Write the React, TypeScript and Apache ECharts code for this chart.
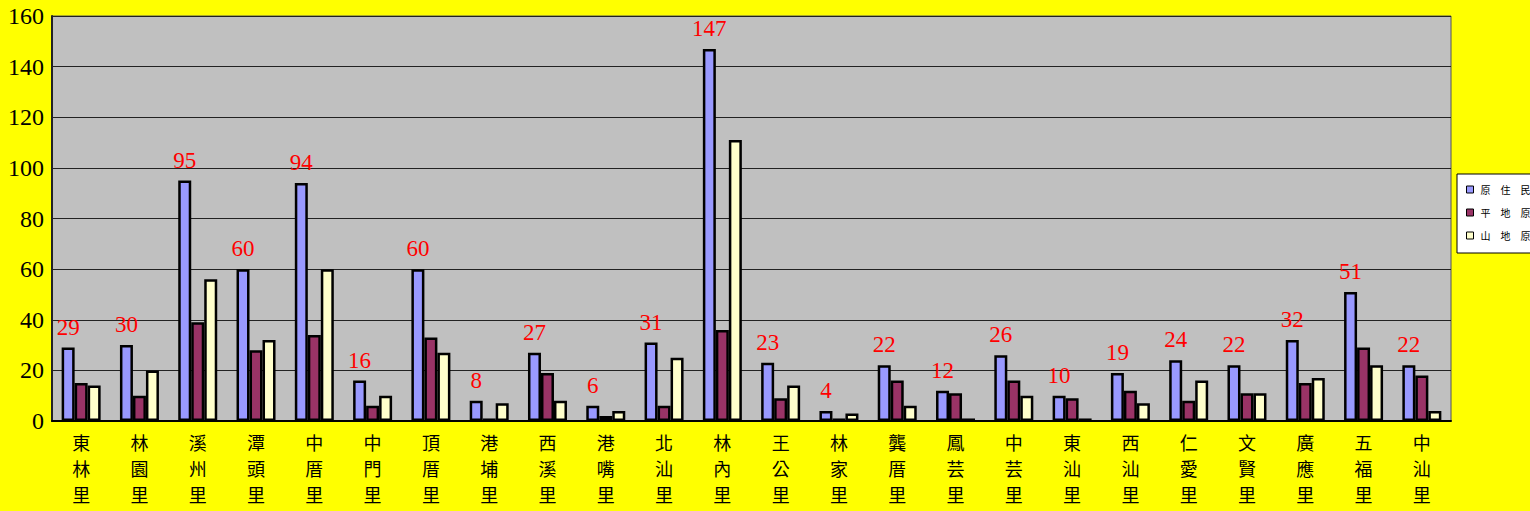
import React, { useEffect, useRef } from "react";
import * as echarts from "echarts";

const categories = [
  "東林里", "林園里", "溪州里", "潭頭里", "中厝里", "中門里", "頂厝里", "港埔里",
  "西溪里", "港嘴里", "北汕里", "林內里", "王公里", "林家里", "龔厝里", "鳳芸里",
  "中芸里", "東汕里", "西汕里", "仁愛里", "文賢里", "廣應里", "五福里", "中汕里",
];
const seriesNames = ["原住民人口", "平地原住民", "山地原住民"];
const totalValues = [29, 30, 95, 60, 94, 16, 60, 8, 27, 6, 31, 147, 23, 4, 22, 12, 26, 10, 19, 24, 22, 32, 51, 22];
const plainValues = [15, 10, 39, 28, 34, 6, 33, 1, 19, 2, 6, 36, 9, 1, 16, 11, 16, 9, 12, 8, 11, 15, 29, 18];
const mountainValues = [14, 20, 56, 32, 60, 10, 27, 7, 8, 4, 25, 111, 14, 3, 6, 1, 10, 1, 7, 16, 11, 17, 22, 4];
const yTicks = { min: 0, max: 160, interval: 20 };

export default function App() {
  const ref = useRef<HTMLDivElement>(null);
  useEffect(() => {
    if (!ref.current) return;
    const chart = echarts.init(ref.current, null, { renderer: "svg" });
    const barBase = {
      type: "bar" as const,
      barWidth: 13,
      barGap: "0%",
      itemStyle: { borderColor: "#000", borderWidth: 2.5 },
    };
    chart.setOption({
      animation: false,
      backgroundColor: "#FFFF00",
      grid: {
        left: 52,
        top: 16,
        width: 1399,
        height: 405,
        show: true,
        backgroundColor: "#C0C0C0",
        borderColor: "#555",
        borderWidth: 1,
      },
      legend: {
        orient: "vertical",
        left: 1457,
        top: 174,
        backgroundColor: "#fff",
        borderColor: "#000",
        borderWidth: 1,
        borderRadius: 0,
        padding: [10, 10, 12, 9],
        itemWidth: 7,
        itemHeight: 7,
        itemGap: 12,
        icon: "rect",
        formatter: (n: string) => n.split("").join("\u2002\u2002"),
        textStyle: {
          fontFamily: "Noto Sans CJK TC",
          fontSize: 10,
          lineHeight: 11,
          color: "#000",
          padding: [0, 0, 0, 2],
        },
        itemStyle: { borderColor: "#000", borderWidth: 1 },
        data: seriesNames,
      },
      xAxis: {
        type: "category",
        data: categories,
        axisLine: { lineStyle: { color: "#000", width: 2 } },
        axisTick: { inside: true, length: 10, lineStyle: { color: "#666", width: 1 } },
        axisLabel: {
          margin: 8,
          interval: 0,
          formatter: (v: string) => v.split("").join("\n"),
          fontFamily: "Noto Sans CJK TC",
          fontSize: 18,
          lineHeight: 26,
          color: "#000",
        },
      },
      yAxis: {
        type: "value",
        min: yTicks.min,
        max: yTicks.max,
        interval: yTicks.interval,
        axisLine: { show: true, lineStyle: { color: "#222", width: 2 } },
        axisTick: { show: false },
        axisLabel: {
          margin: 8,
          fontFamily: "Liberation Serif",
          fontSize: 24,
          color: "#000",
        },
        splitLine: { lineStyle: { color: "#222", width: 1 } },
      },
      series: [
        {
          ...barBase,
          name: seriesNames[0],
          data: totalValues,
          itemStyle: { ...barBase.itemStyle, color: "#9999FF" },
          label: {
            show: true,
            position: "top",
            distance: 9,
            color: "#FF0000",
            fontFamily: "Liberation Serif",
            fontSize: 23,
          },
        },
        {
          ...barBase,
          name: seriesNames[1],
          data: plainValues,
          itemStyle: { ...barBase.itemStyle, color: "#993366" },
        },
        {
          ...barBase,
          name: seriesNames[2],
          data: mountainValues,
          itemStyle: { ...barBase.itemStyle, color: "#FFFFCC" },
        },
      ],
    });
    return () => chart.dispose();
  }, []);
  return (
    <div
      style={{
        position: "fixed",
        left: 0,
        top: 0,
        width: 1530,
        height: 511,
        overflow: "hidden",
        background: "#FFFF00",
      }}
    >
      <div ref={ref} style={{ width: 1600, height: 511 }} />
    </div>
  );
}
